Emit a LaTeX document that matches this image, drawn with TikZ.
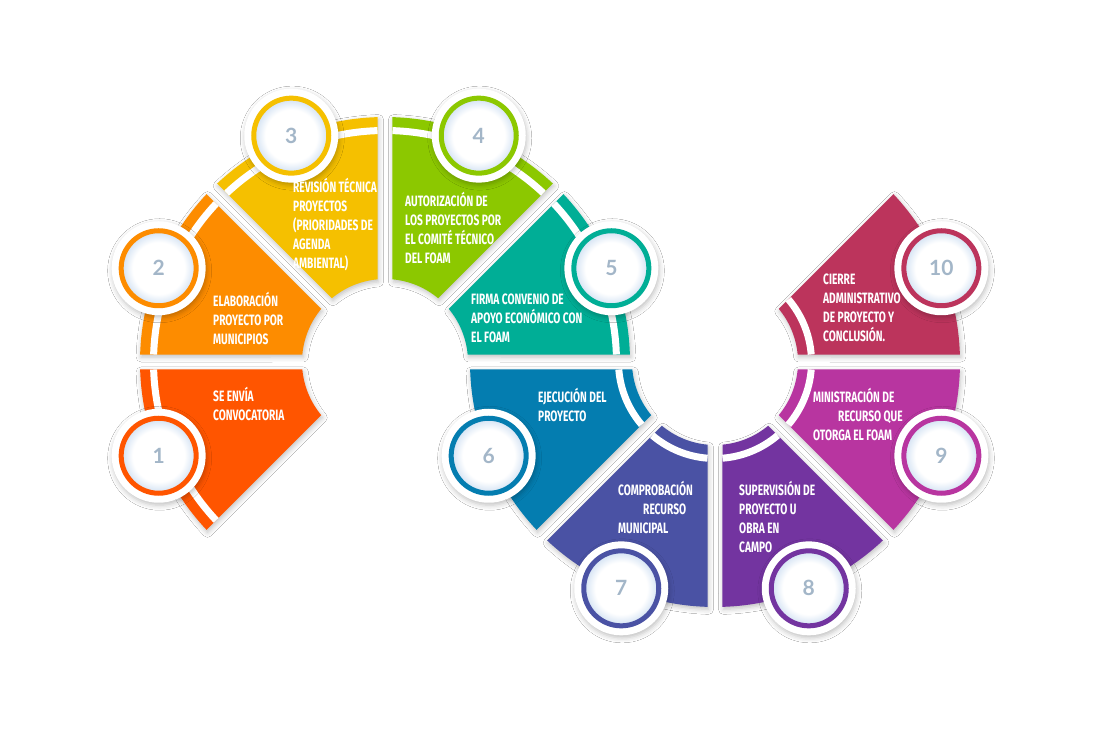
\documentclass[tikz,border=0pt]{standalone}
\usepackage{fontspec}
\usetikzlibrary{shadows.blur}
\newfontfamily\stepfont{Fira Sans}[FakeStretch=0.68]
\newfontfamily\numfont{Lato}

\definecolor{paso1}{RGB}{255,85,0}
\definecolor{paso2}{RGB}{253,140,0}
\definecolor{paso3}{RGB}{245,192,0}
\definecolor{paso4}{RGB}{140,200,0}
\definecolor{paso5}{RGB}{0,174,150}
\definecolor{paso6}{RGB}{4,125,176}
\definecolor{paso7}{RGB}{74,82,164}
\definecolor{paso8}{RGB}{115,52,160}
\definecolor{paso9}{RGB}{184,53,160}
\definecolor{paso10}{RGB}{188,52,92}
\definecolor{numgray}{RGB}{163,182,200}
\definecolor{glowblue}{RGB}{214,228,244}
\pgfdeclareradialshading{numglow}{\pgfpoint{0bp}{0bp}}{color(0bp)=(white); color(18bp)=(white); color(25bp)=(glowblue); color(50bp)=(glowblue)}

\begin{document}
\begin{tikzpicture}[
  x=1pt, y=1pt,
  segshadow/.style={blur shadow={shadow xshift=1pt, shadow yshift=-2.5pt, shadow blur radius=5pt, shadow opacity=25}},
  disc/.style={circle, fill=white, minimum size=94pt, inner sep=0pt, segshadow},
  steptext/.style={font=\stepfont\bfseries\fontsize{15}{19}\selectfont, text=white, align=left, inner sep=0pt, anchor=base west},
  numtext/.style={font=\numfont\bfseries\fontsize{21}{21}\selectfont, text=numgray, inner sep=0pt}
]
\useasboundingbox[fill=white] (0,0) rectangle (1100,733);

% sectores
\foreach \cx/\a/\col/\rs in {385/180/paso1/231.5, 385/135/paso2/231.5, 385/90/paso3/231.5,
    385/45/paso4/231.5, 385/0/paso5/231.5, 715/180/paso6/96.5, 715/225/paso7/96.5,
    715/270/paso8/96.5, 715/315/paso9/96.5, 715/0/paso10/96.5}{
  \pgfmathsetmacro\ds{asin(7.5/\rs)}
  \begin{scope}[shift={(\cx,371)}]
    \fill[\col, segshadow] ({\a+1.75}:245) arc[start angle=\a+1.75, end angle=\a+43.25, radius=245]
      -- ({\a+39.82}:83) arc[start angle=\a+39.82, end angle=\a+5.18, radius=83] -- cycle;
    \draw[white, line width=7pt] ({\a+\ds}:\rs) arc[start angle=\a+\ds, end angle=\a+45-\ds, radius=\rs];
  \end{scope}
}

% circulos
\foreach \n/\cx/\ang/\col in {1/385/202.5/paso1, 2/385/157.5/paso2, 3/385/112.5/paso3,
    4/385/67.5/paso4, 5/385/22.5/paso5, 6/715/202.5/paso6, 7/715/247.5/paso7,
    8/715/292.5/paso8, 9/715/337.5/paso9, 10/715/22.5/paso10}{
  \path (\cx,371) ++(\ang:245) node[disc] (c\n) {};
  \fill[shading=numglow] (c\n) circle[radius=36];
  \draw[\col, line width=5pt] (c\n) circle[radius=37.5];
  \node[numtext] (n\n) at (c\n) {\n};
}

% textos (base = ultima linea)
\node[steptext] (t1) at (213,312) {SE ENVÍA\\CONVOCATORIA};
\node[steptext] (t2) at (213,388) {ELABORACIÓN\\PROYECTO POR\\MUNICIPIOS};
\node[steptext] (t3) at (293,464) {REVISIÓN TÉCNICA\\PROYECTOS\\(PRIORIDADES DE\\AGENDA\\AMBIENTAL)};
\node[steptext] (t4) at (405,469) {AUTORIZACIÓN DE\\LOS PROYECTOS POR\\EL COMITÉ TÉCNICO\\DEL FOAM};
\node[steptext] (t5) at (471,390) {FIRMA CONVENIO DE\\APOYO ECONÓMICO CON\\EL FOAM};
\node[steptext] (t6) at (538,311) {EJECUCIÓN DEL\\PROYECTO};
\node[steptext] (t7) at (618,199) {COMPROBACIÓN\\\hspace*{25pt}RECURSO\\MUNICIPAL};
\node[steptext] (t8) at (739,180) {SUPERVISIÓN DE\\PROYECTO U\\OBRA EN\\CAMPO};
\node[steptext] (t9) at (813,292) {MINISTRACIÓN DE\\\hspace*{25pt}RECURSO QUE\\OTORGA EL FOAM};
\node[steptext] (t10) at (823,391) {CIERRE\\ADMINISTRATIVO\\DE PROYECTO Y\\CONCLUSIÓN.};

\end{tikzpicture}
\end{document}
